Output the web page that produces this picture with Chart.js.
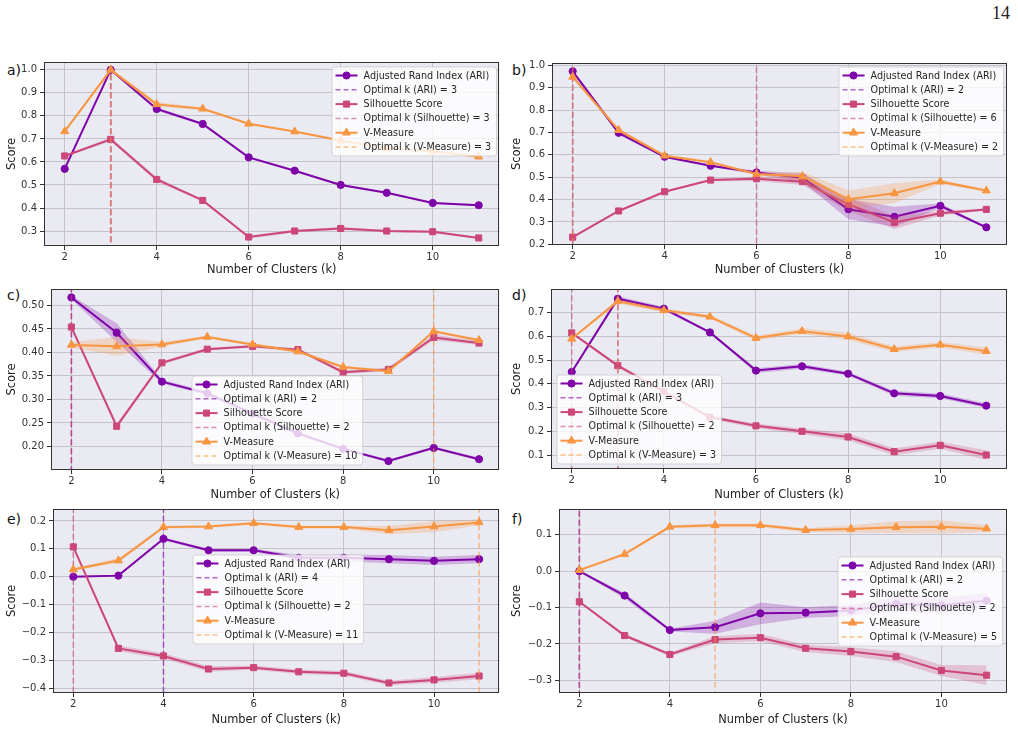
<!DOCTYPE html>
<html>
<head>
<meta charset="utf-8">
<script src="https://cdn.jsdelivr.net/npm/chart.js@4.4.1/dist/chart.umd.min.js"></script>
<style>
  body { margin: 0; background: #fff; width: 1018px; height: 731px; position: relative; overflow: hidden; }
  .panel { position: absolute; }
  .tag { position: absolute; font: 14px 'DejaVu Sans'; line-height: 14px; color: #111; }
  #pageNo { position: absolute; left: 992px; top: 3px; font: 18px 'Liberation Serif'; color: #222; }
</style>
</head>
<body>
<div id="pageNo">14</div>
<div class="tag" style="left:7px;top:63px">a)</div>
<div class="tag" style="left:512px;top:63px">b)</div>
<div class="tag" style="left:7px;top:288px">c)</div>
<div class="tag" style="left:512px;top:288px">d)</div>
<div class="tag" style="left:7px;top:512px">e)</div>
<div class="tag" style="left:512px;top:512px">f)</div>
<script>
// shared
var kValues = [2, 3, 4, 5, 6, 7, 8, 9, 10, 11];
var xTicks = [2, 4, 6, 8, 10];
var xLim = [1.55, 11.45];
var seriesNames = ['Adjusted Rand Index (ARI)', 'Silhouette Score', 'V-Measure'];
var optimalNames = ['ARI', 'Silhouette', 'V-Measure'];

// a)
var ariA = [0.57, 1.0, 0.83, 0.765, 0.62, 0.562, 0.50, 0.466, 0.422, 0.412];
var silA = [0.626, 0.698, 0.524, 0.433, 0.274, 0.30, 0.311, 0.30, 0.297, 0.27];
var vmA = [0.733, 1.0, 0.85, 0.831, 0.766, 0.732, 0.693, 0.66, 0.646, 0.623];
var ariErrA = [0.004, 0.005, 0.008, 0.005, 0.004, 0.004, 0.004, 0.004, 0.004, 0.004];
var silErrA = [0.004, 0.008, 0.01, 0.005, 0.006, 0.006, 0.006, 0.005, 0.005, 0.004];
var vmErrA = [0.004, 0.008, 0.01, 0.005, 0.004, 0.004, 0.004, 0.004, 0.004, 0.004];
var optimalA = [3, 3, 3];
var yTicksA = [0.3, 0.4, 0.5, 0.6, 0.7, 0.8, 0.9, 1.0];
var yLimA = [0.235, 1.034];

// b)
var ariB = [0.973, 0.698, 0.591, 0.551, 0.521, 0.497, 0.357, 0.323, 0.372, 0.276];
var silB = [0.232, 0.349, 0.435, 0.487, 0.493, 0.48, 0.379, 0.298, 0.339, 0.356];
var vmB = [0.948, 0.71, 0.596, 0.567, 0.514, 0.504, 0.401, 0.428, 0.48, 0.44];
var ariErrB = [0.008, 0.008, 0.005, 0.005, 0.008, 0.02, 0.045, 0.045, 0.01, 0.005];
var silErrB = [0.004, 0.004, 0.004, 0.005, 0.01, 0.015, 0.03, 0.03, 0.01, 0.005];
var vmErrB = [0.004, 0.008, 0.005, 0.005, 0.006, 0.02, 0.04, 0.045, 0.01, 0.005];
var optimalB = [2, 6, 2];
var yTicksB = [0.2, 0.3, 0.4, 0.5, 0.6, 0.7, 0.8, 0.9, 1.0];
var yLimB = [0.197, 1.01];

// c)
var ariC = [0.517, 0.442, 0.338, 0.313, 0.27, 0.228, 0.195, 0.169, 0.197, 0.173];
var silC = [0.454, 0.243, 0.378, 0.407, 0.413, 0.406, 0.358, 0.364, 0.432, 0.42];
var vmC = [0.416, 0.413, 0.417, 0.433, 0.417, 0.402, 0.369, 0.36, 0.445, 0.426];
var ariErrC = [0.004, 0.02, 0.004, 0.004, 0.004, 0.004, 0.003, 0.003, 0.003, 0.003];
var silErrC = [0.004, 0.006, 0.004, 0.003, 0.003, 0.003, 0.004, 0.004, 0.006, 0.004];
var vmErrC = [0.006, 0.02, 0.005, 0.003, 0.003, 0.003, 0.003, 0.003, 0.003, 0.003];
var optimalC = [2, 2, 10];
var yTicksC = [0.20, 0.25, 0.30, 0.35, 0.40, 0.45, 0.50];
var yLimC = [0.15, 0.535];

// d)
var ariD = [0.45, 0.759, 0.717, 0.617, 0.456, 0.474, 0.443, 0.36, 0.349, 0.308];
var silD = [0.615, 0.477, 0.367, 0.26, 0.223, 0.20, 0.176, 0.114, 0.141, 0.10];
var vmD = [0.59, 0.748, 0.71, 0.683, 0.593, 0.622, 0.60, 0.546, 0.565, 0.538];
var ariErrD = [0.004, 0.01, 0.008, 0.005, 0.01, 0.01, 0.008, 0.01, 0.01, 0.01];
var silErrD = [0.004, 0.008, 0.008, 0.008, 0.01, 0.012, 0.015, 0.015, 0.015, 0.02];
var vmErrD = [0.004, 0.01, 0.008, 0.008, 0.01, 0.012, 0.015, 0.012, 0.012, 0.015];
var optimalD = [3, 2, 3];
var yTicksD = [0.1, 0.2, 0.3, 0.4, 0.5, 0.6, 0.7];
var yLimD = [0.041, 0.80];

// e)
var ariE = [0.0, 0.004, 0.136, 0.095, 0.095, 0.068, 0.068, 0.063, 0.057, 0.063];
var silE = [0.107, -0.257, -0.284, -0.331, -0.326, -0.341, -0.346, -0.381, -0.370, -0.356];
var vmE = [0.026, 0.058, 0.178, 0.18, 0.192, 0.178, 0.178, 0.167, 0.18, 0.195];
var ariErrE = [0.002, 0.003, 0.005, 0.005, 0.005, 0.01, 0.012, 0.015, 0.015, 0.015];
var silErrE = [0.005, 0.01, 0.01, 0.01, 0.008, 0.008, 0.008, 0.008, 0.01, 0.012];
var vmErrE = [0.005, 0.008, 0.005, 0.005, 0.005, 0.005, 0.005, 0.015, 0.02, 0.01];
var optimalE = [4, 2, 11];
var yTicksE = [-0.4, -0.3, -0.2, -0.1, 0.0, 0.1, 0.2];
var yLimE = [-0.417, 0.243];

// f)
var ariF = [0.0, -0.067, -0.162, -0.154, -0.116, -0.114, -0.108, -0.09, -0.094, -0.081];
var silF = [-0.084, -0.177, -0.229, -0.188, -0.183, -0.212, -0.221, -0.235, -0.273, -0.286];
var vmF = [0.003, 0.047, 0.122, 0.126, 0.126, 0.113, 0.116, 0.121, 0.122, 0.117];
var ariErrF = [0.002, 0.008, 0.004, 0.018, 0.03, 0.015, 0.015, 0.02, 0.02, 0.022];
var silErrF = [0.003, 0.005, 0.005, 0.01, 0.01, 0.01, 0.012, 0.015, 0.015, 0.027];
var vmErrF = [0.003, 0.004, 0.004, 0.005, 0.005, 0.005, 0.01, 0.016, 0.018, 0.01];
var optimalF = [2, 2, 5];
var yTicksF = [-0.3, -0.2, -0.1, 0.0, 0.1];
var yLimF = [-0.335, 0.171];

var colors = ['#7e03a8', '#cc4778', '#f89540'];
var markers = ['circle', 'rect', 'triangle'];
var markerSize = [3.6, 4.3, 4.6];
var FONT = 'DejaVu Sans';

function rgba(hex, a) {
  var n = parseInt(hex.slice(1), 16);
  return 'rgba(' + (n >> 16) + ',' + ((n >> 8) & 255) + ',' + (n & 255) + ',' + a + ')';
}

function fmt(v, dec) {
  var s = Math.abs(v).toFixed(dec);
  return (v < -1e-9 ? '\u2212' : '') + s;
}

// panel frame + background + legend
var framePlugin = {
  id: 'frame',
  beforeDraw: function (chart) {
    var a = chart.chartArea, ctx = chart.ctx;
    ctx.save();
    ctx.fillStyle = '#eaeaf2';
    ctx.fillRect(a.left, a.top, a.right - a.left, a.bottom - a.top);
    ctx.restore();
  },
  afterDraw: function (chart) {
    var a = chart.chartArea, ctx = chart.ctx;
    ctx.save();
    ctx.strokeStyle = '#333';
    ctx.lineWidth = 1;
    ctx.strokeRect(Math.round(a.left) + 0.5, Math.round(a.top) + 0.5, Math.round(a.right - a.left) - 1, Math.round(a.bottom - a.top) - 1);
    ctx.restore();

    var o = chart.options.plugins.panelLegend;
    if (!o) return;
    ctx.save();
    ctx.font = '9.6px "' + FONT + '"';
    var tw = 0;
    o.items.forEach(function (it) { tw = Math.max(tw, ctx.measureText(it.text).width); });
    var x = o.x, y = o.y, w = 37 + tw, h = 89, r = 3;
    ctx.beginPath();
    ctx.moveTo(x + r, y);
    ctx.lineTo(x + w - r, y); ctx.arcTo(x + w, y, x + w, y + r, r);
    ctx.lineTo(x + w, y + h - r); ctx.arcTo(x + w, y + h, x + w - r, y + h, r);
    ctx.lineTo(x + r, y + h); ctx.arcTo(x, y + h, x, y + h - r, r);
    ctx.lineTo(x, y + r); ctx.arcTo(x, y, x + r, y, r);
    ctx.closePath();
    ctx.fillStyle = 'rgba(255,255,255,0.8)';
    ctx.fill();
    ctx.strokeStyle = 'rgba(204,204,204,0.8)';
    ctx.lineWidth = 1;
    ctx.stroke();

    o.items.forEach(function (it, i) {
      var cy = y + 8.5 + i * 14.3;
      ctx.strokeStyle = it.color;
      ctx.fillStyle = it.color;
      ctx.lineWidth = it.dashed ? 1.5 : 2;
      ctx.setLineDash(it.dashed ? [5, 3] : []);
      ctx.beginPath();
      ctx.moveTo(x + 3.5, cy);
      ctx.lineTo(x + 25.5, cy);
      ctx.stroke();
      ctx.setLineDash([]);
      if (it.marker) {
        ctx.lineWidth = 1;
        Chart.helpers.drawPoint(ctx, { pointStyle: it.marker, radius: it.size, borderWidth: 1, rotation: 0 }, x + 14.5, cy);
      }
      ctx.fillStyle = '#262626';
      ctx.textBaseline = 'middle';
      ctx.fillText(it.text, x + 31.6, cy + 0.5);
    });
    ctx.restore();
  }
};

var panels = [
  { box: [0, 50, 505, 230], plot: [44, 12, 500, 196], vals: [ariA, silA, vmA], errs: [ariErrA, silErrA, vmErrA], opt: optimalA, yTicks: yTicksA, yLim: yLimA, dec: 1, legend: [332, 17] },
  { box: [505, 50, 513, 230], plot: [47, 13, 502, 195], vals: [ariB, silB, vmB], errs: [ariErrB, silErrB, vmErrB], opt: optimalB, yTicks: yTicksB, yLim: yLimB, dec: 1, legend: [334, 17] },
  { box: [0, 280, 505, 225], plot: [51, 5, 500, 190], vals: [ariC, silC, vmC], errs: [ariErrC, silErrC, vmErrC], opt: optimalC, yTicks: yTicksC, yLim: yLimC, dec: 2, legend: [192, 96] },
  { box: [505, 280, 513, 225], plot: [46, 5, 502, 189], vals: [ariD, silD, vmD], errs: [ariErrD, silErrD, vmErrD], opt: optimalD, yTicks: yTicksD, yLim: yLimD, dec: 1, legend: [52, 95] },
  { box: [0, 500, 505, 230], plot: [53, 7, 500, 193], vals: [ariE, silE, vmE], errs: [ariErrE, silErrE, vmErrE], opt: optimalE, yTicks: yTicksE, yLim: yLimE, dec: 1, legend: [193, 55] },
  { box: [505, 500, 513, 230], plot: [54, 6, 502, 193], vals: [ariF, silF, vmF], errs: [ariErrF, silErrF, vmErrF], opt: optimalF, yTicks: yTicksF, yLim: yLimF, dec: 1, legend: [333, 57] }
];

var buildPanel = function (p) {
  var wrap = document.createElement('div');
  wrap.className = 'panel';
  wrap.style.left = p.box[0] + 'px';
  wrap.style.top = p.box[1] + 'px';
  var cv = document.createElement('canvas');
  cv.width = p.box[2];
  cv.height = p.box[3];
  wrap.appendChild(cv);
  document.body.appendChild(wrap);

  var datasets = [];
  var legendItems = [];
  p.vals.forEach(function (vals, i) {
    var err = p.errs[i];
    datasets.push({
      label: 'lo', data: vals.map(function (v, j) { return { x: kValues[j], y: v - err[j] }; }),
      borderWidth: 0, pointRadius: 0, pointHitRadius: 0, fill: false, borderColor: 'transparent'
    });
    datasets.push({
      label: 'hi', data: vals.map(function (v, j) { return { x: kValues[j], y: v + err[j] }; }),
      borderWidth: 0, pointRadius: 0, pointHitRadius: 0, fill: '-1', borderColor: 'transparent',
      backgroundColor: rgba(colors[i], 0.25)
    });
    datasets.push({
      label: seriesNames[i], data: vals.map(function (v, j) { return { x: kValues[j], y: v }; }),
      borderColor: colors[i], backgroundColor: colors[i], borderWidth: 2, fill: false,
      pointStyle: markers[i], pointRadius: markerSize[i], pointBorderWidth: 1,
      pointBackgroundColor: colors[i], pointBorderColor: colors[i]
    });
    datasets.push({
      label: 'Optimal k (' + optimalNames[i] + ') = ' + p.opt[i],
      data: [{ x: p.opt[i], y: p.yLim[0] - 1 }, { x: p.opt[i], y: p.yLim[1] + 1 }],
      borderColor: rgba(colors[i], 0.6), borderWidth: 1.5, borderDash: [6, 3], pointRadius: 0, fill: false
    });
    legendItems.push({ text: seriesNames[i], color: colors[i], marker: markers[i], size: markerSize[i], dashed: false });
    legendItems.push({ text: 'Optimal k (' + optimalNames[i] + ') = ' + p.opt[i], color: rgba(colors[i], 0.6), dashed: true });
  });
  // later datasets on top, as in matplotlib
  datasets.forEach(function (d, i) { d.order = -i; });

  new Chart(cv, {
    type: 'line',
    data: { datasets: datasets },
    options: {
      responsive: false,
      animation: false,
      devicePixelRatio: 1,
      elements: { line: { tension: 0 } },
      layout: { padding: { left: 0, top: p.plot[1], right: p.box[2] - p.plot[2], bottom: 0 } },
      plugins: {
        legend: { display: false },
        tooltip: { enabled: false },
        panelLegend: { x: p.legend[0], y: p.legend[1], items: legendItems }
      },
      scales: {
        x: {
          type: 'linear', min: xLim[0], max: xLim[1],
          afterBuildTicks: function (s) { s.ticks = xTicks.map(function (v) { return { value: v }; }); },
          afterFit: function (s) { s.height = p.box[3] - p.plot[3]; },
          grid: { color: '#c3c3c9', lineWidth: 1, tickColor: '#333', tickLength: 4 },
          border: { display: false },
          ticks: { font: { family: FONT, size: 10 }, color: '#333', padding: 1, maxRotation: 0, autoSkip: false },
          title: { display: true, text: 'Number of Clusters (k)', font: { family: FONT, size: 11.4 }, color: '#222', padding: { top: 0, bottom: 3 } }
        },
        y: {
          type: 'linear', min: p.yLim[0], max: p.yLim[1],
          afterBuildTicks: function (s) { s.ticks = p.yTicks.map(function (v) { return { value: v }; }); },
          afterFit: function (s) { s.width = p.plot[0]; },
          grid: { color: '#c3c3c9', lineWidth: 1, tickColor: '#333', tickLength: 4 },
          border: { display: false },
          ticks: {
            font: { family: FONT, size: 10 }, color: '#333', padding: 3, autoSkip: false,
            callback: function (v) { return fmt(v, p.dec); }
          },
          title: { display: true, text: 'Score', font: { family: FONT, size: 11.5 }, color: '#222', padding: { top: 5, bottom: 0 } }
        }
      }
    },
    plugins: [framePlugin]
  });
};

panels.forEach(buildPanel);
</script>
</body>
</html>
